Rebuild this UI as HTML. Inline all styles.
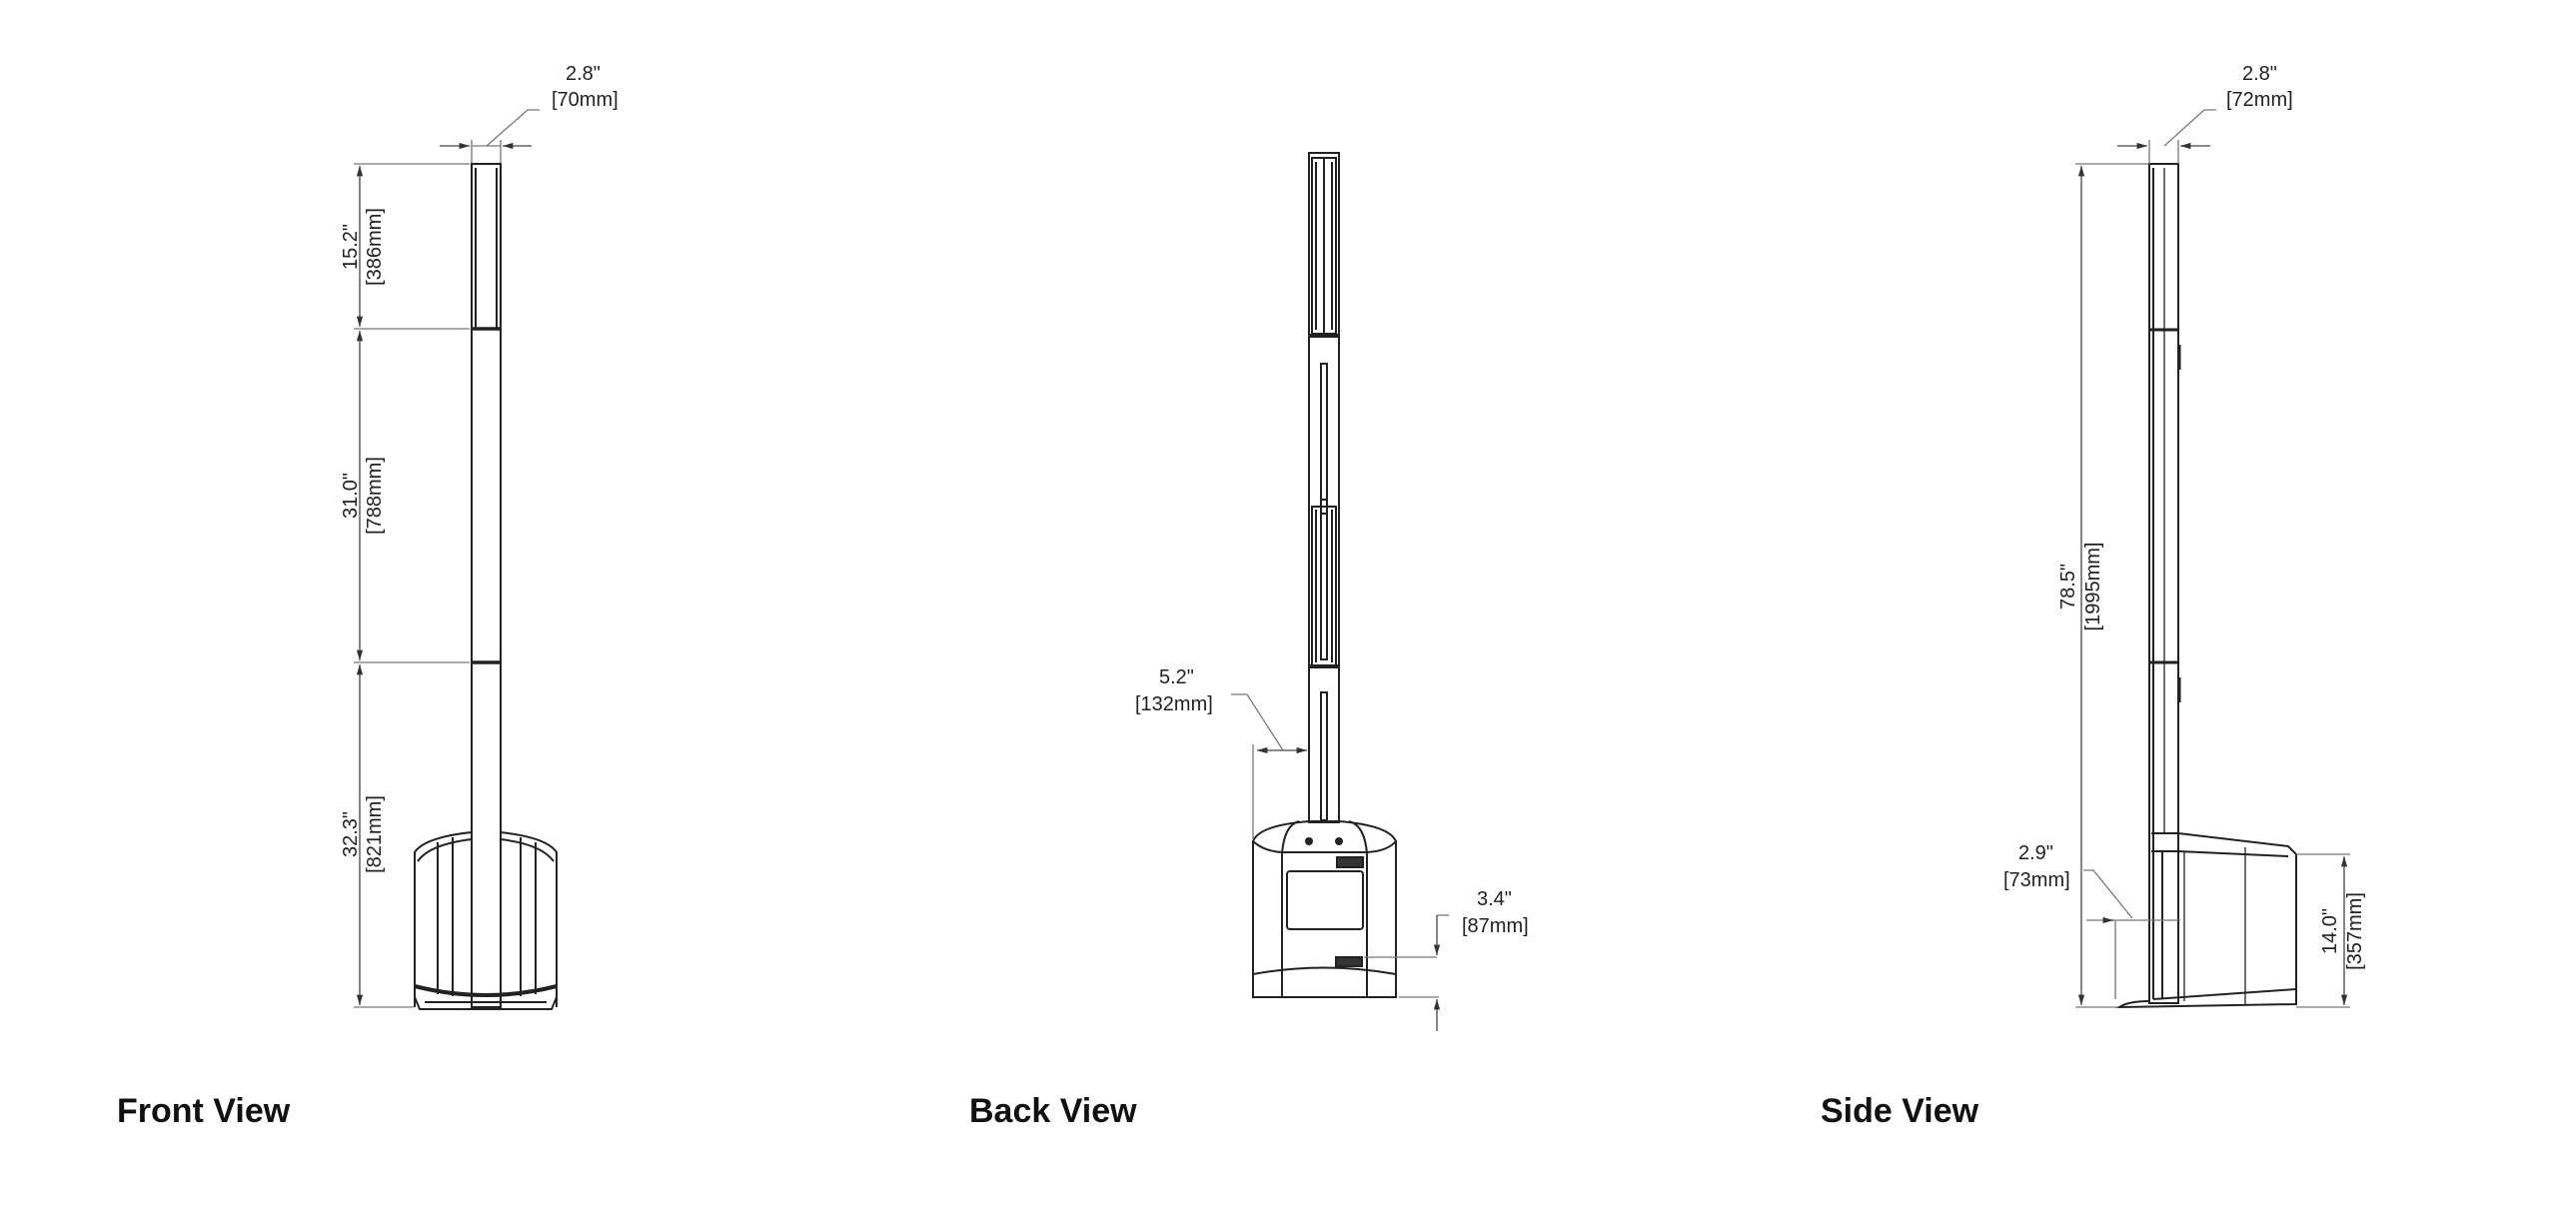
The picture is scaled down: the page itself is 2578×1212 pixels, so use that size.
<!DOCTYPE html>
<html><head><meta charset="utf-8"><style>
html,body{margin:0;padding:0;background:#fff;}
svg{display:block}
.t{font-family:"Liberation Sans",sans-serif;font-size:20px;fill:#222}
.h{font-family:"Liberation Sans",sans-serif;font-size:34px;font-weight:bold;fill:#111}
</style></head><body>
<svg width="2578" height="1212" viewBox="0 0 2578 1212" xmlns="http://www.w3.org/2000/svg">
<defs>
<marker id="a" viewBox="0 0 10 10" refX="10" refY="5" markerWidth="8" markerHeight="8" orient="auto-start-reverse"><path d="M0,2 L10,5 L0,8 z" fill="#333"/></marker>
</defs>
<g fill="none" stroke="#777" stroke-width="1.3">
<!-- FRONT dims -->
<line x1="354" y1="164" x2="470" y2="164"/>
<line x1="354" y1="329" x2="470" y2="329"/>
<line x1="354" y1="663" x2="470" y2="663"/>
<line x1="354" y1="1008" x2="414" y2="1008"/>
<line x1="360" y1="166" x2="360" y2="327" stroke="#444" marker-start="url(#a)" marker-end="url(#a)"/>
<line x1="360" y1="331" x2="360" y2="661" stroke="#444" marker-start="url(#a)" marker-end="url(#a)"/>
<line x1="360" y1="665" x2="360" y2="1006" stroke="#444" marker-start="url(#a)" marker-end="url(#a)"/>
<line x1="472" y1="140" x2="472" y2="164"/><line x1="501" y1="140" x2="501" y2="164"/>
<line x1="440" y1="146" x2="470" y2="146" stroke="#444" marker-end="url(#a)"/>
<line x1="532" y1="146" x2="503" y2="146" stroke="#444" marker-end="url(#a)"/>
<line x1="472" y1="146" x2="501" y2="146"/>
<polyline points="487,146 528,110 540,110"/>
</g>
<g fill="none" stroke="#222" stroke-width="2">
<!-- FRONT column -->
<rect x="472" y="164" width="29" height="844"/>
<line x1="472" y1="329" x2="501" y2="329" stroke-width="3.5"/>
<line x1="472" y1="663" x2="501" y2="663" stroke-width="3.5"/>
<line x1="476" y1="168" x2="476" y2="329"/><line x1="497" y1="168" x2="497" y2="329"/>
<!-- front base -->
<path d="M415,1008 L415,853 Q425,838 472,833"/>
<path d="M557,1008 L557,853 Q547,838 501,833"/>
<path d="M418,862 Q430,845 472,840"/><path d="M554,862 Q542,845 501,840"/>
<line x1="438" y1="843" x2="438" y2="995"/><line x1="453" y1="838" x2="453" y2="997"/>
<line x1="521" y1="838" x2="521" y2="997"/><line x1="536" y1="843" x2="536" y2="995"/>
<path d="M415,987 Q486,1005 557,987" stroke-width="4"/>
<path d="M415,998 L420,1010 L552,1010 L557,998"/>
<line x1="425" y1="1003" x2="547" y2="1003"/>
</g>
<text class="t" x="566" y="80">2.8"</text>
<text class="t" x="552" y="106">[70mm]</text>
<g class="t" text-anchor="middle">
<text transform="translate(357,247) rotate(-90)">15.2"</text>
<text transform="translate(381,247) rotate(-90)">[386mm]</text>
<text transform="translate(357,496) rotate(-90)">31.0"</text>
<text transform="translate(381,496) rotate(-90)">[788mm]</text>
<text transform="translate(357,835) rotate(-90)">32.3"</text>
<text transform="translate(381,835) rotate(-90)">[821mm]</text>
</g>

<!-- BACK view -->
<g fill="none" stroke="#222" stroke-width="2">
<rect x="1310" y="153" width="30" height="670"/>
<rect x="1313" y="158" width="24" height="176"/>
<line x1="1325" y1="158" x2="1325" y2="334"/>
<line x1="1317" y1="162" x2="1317" y2="330"/><line x1="1333" y1="162" x2="1333" y2="330"/>
<line x1="1310" y1="336" x2="1340" y2="336" stroke-width="4"/>
<rect x="1322" y="364" width="6" height="150"/>
<rect x="1313" y="507" width="24" height="160"/>
<line x1="1317" y1="510" x2="1317" y2="663"/><line x1="1333" y1="510" x2="1333" y2="663"/>
<rect x="1322" y="500" width="6" height="160"/>
<line x1="1310" y1="667" x2="1340" y2="667" stroke-width="4"/>
<rect x="1322" y="693" width="6" height="128"/>
<!-- base -->
<path d="M1254,998 L1254,842 Q1260,826 1310,822 L1340,822 Q1390,826 1397,842 L1397,998 Z"/>
<path d="M1254,842 Q1265,852 1283,853 L1368,853 Q1388,852 1397,842"/>
<path d="M1283,998 L1283,855 Q1285,826 1300,822"/><path d="M1368,998 L1368,855 Q1366,826 1350,822"/>
<rect x="1288" y="872" width="76" height="58" rx="3"/>
<path d="M1254,975 Q1325,962 1397,975"/>
<rect x="1338" y="858" width="26" height="10" fill="#333"/>
<rect x="1337" y="958" width="26" height="9" fill="#333"/>
<circle cx="1310" cy="842" r="3" fill="#222"/><circle cx="1340" cy="842" r="3" fill="#222"/>
</g>
<g fill="none" stroke="#777" stroke-width="1.3">
<line x1="1254" y1="745" x2="1254" y2="840"/>
<line x1="1258" y1="751" x2="1282" y2="751" stroke="#444" marker-start="url(#a)"/>
<line x1="1282" y1="751" x2="1308" y2="751" stroke="#444" marker-end="url(#a)"/>
<polyline points="1232,695 1248,695 1284,751"/>
<line x1="1365" y1="958" x2="1438" y2="958"/>
<line x1="1400" y1="998" x2="1440" y2="998"/>
<line x1="1438" y1="916" x2="1450" y2="916"/>
<line x1="1438" y1="916" x2="1438" y2="956" stroke="#444" marker-end="url(#a)"/>
<line x1="1438" y1="1032" x2="1438" y2="1000" stroke="#444" marker-end="url(#a)"/>
</g>
<text class="t" x="1160" y="684">5.2"</text>
<text class="t" x="1136" y="711">[132mm]</text>
<text class="t" x="1478" y="906">3.4"</text>
<text class="t" x="1463" y="933">[87mm]</text>

<!-- SIDE view -->
<g fill="none" stroke="#222" stroke-width="2">
<rect x="2151" y="164" width="29" height="840"/>
<line x1="2155" y1="168" x2="2155" y2="1000"/>
<line x1="2166" y1="168" x2="2166" y2="834" stroke-width="1.3"/>
<line x1="2151" y1="330" x2="2180" y2="330" stroke-width="3"/>
<line x1="2151" y1="663" x2="2180" y2="663" stroke-width="3"/>
<line x1="2181" y1="345" x2="2181" y2="370" stroke-width="3"/>
<line x1="2181" y1="678" x2="2181" y2="703" stroke-width="3"/>
<path d="M2153,834 L2180,834 L2290,847 L2298,855 L2298,1005 L2121,1008 Q2130,1002 2151,1002"/>
<path d="M2153,852 L2180,852 L2290,857"/>
<line x1="2164" y1="852" x2="2164" y2="1000"/>
<line x1="2247" y1="848" x2="2247" y2="1005" stroke-width="1.3"/>
<line x1="2186" y1="852" x2="2186" y2="1002" stroke-width="1.3"/>
<path d="M2155,1000 L2298,990"/>
</g>
<g fill="none" stroke="#777" stroke-width="1.3">
<line x1="2077" y1="164" x2="2150" y2="164"/>
<line x1="2077" y1="1008" x2="2120" y2="1008"/>
<line x1="2083" y1="166" x2="2083" y2="1006" stroke="#444" marker-start="url(#a)" marker-end="url(#a)"/>
<line x1="2151" y1="140" x2="2151" y2="164"/><line x1="2180" y1="140" x2="2180" y2="164"/>
<line x1="2119" y1="146" x2="2149" y2="146" stroke="#444" marker-end="url(#a)"/>
<line x1="2212" y1="146" x2="2182" y2="146" stroke="#444" marker-end="url(#a)"/>
<polyline points="2166,146 2206,110 2218,110"/>
<line x1="2298" y1="855" x2="2352" y2="855"/>
<line x1="2298" y1="1008" x2="2352" y2="1008"/>
<line x1="2346" y1="857" x2="2346" y2="1006" stroke="#444" marker-start="url(#a)" marker-end="url(#a)"/>
<line x1="2088" y1="921" x2="2182" y2="921"/>
<line x1="2117" y1="921" x2="2117" y2="1000"/>
<line x1="2106" y1="921" x2="2115" y2="921" stroke="#444" marker-end="url(#a)"/>
<polyline points="2085,871 2095,871 2134,919"/>
</g>
<text class="t" x="2244" y="80">2.8"</text>
<text class="t" x="2228" y="106">[72mm]</text>
<text class="t" x="2020" y="860">2.9"</text>
<text class="t" x="2005" y="887">[73mm]</text>
<g class="t" text-anchor="middle">
<text transform="translate(2076,587) rotate(-90)">78.5"</text>
<text transform="translate(2101,587) rotate(-90)">[1995mm]</text>
<text transform="translate(2338,932) rotate(-90)">14.0"</text>
<text transform="translate(2363,932) rotate(-90)">[357mm]</text>
</g>

<text class="h" x="117" y="1123">Front View</text>
<text class="h" x="970" y="1123">Back View</text>
<text class="h" x="1822" y="1123">Side View</text>
</svg>
</body></html>
